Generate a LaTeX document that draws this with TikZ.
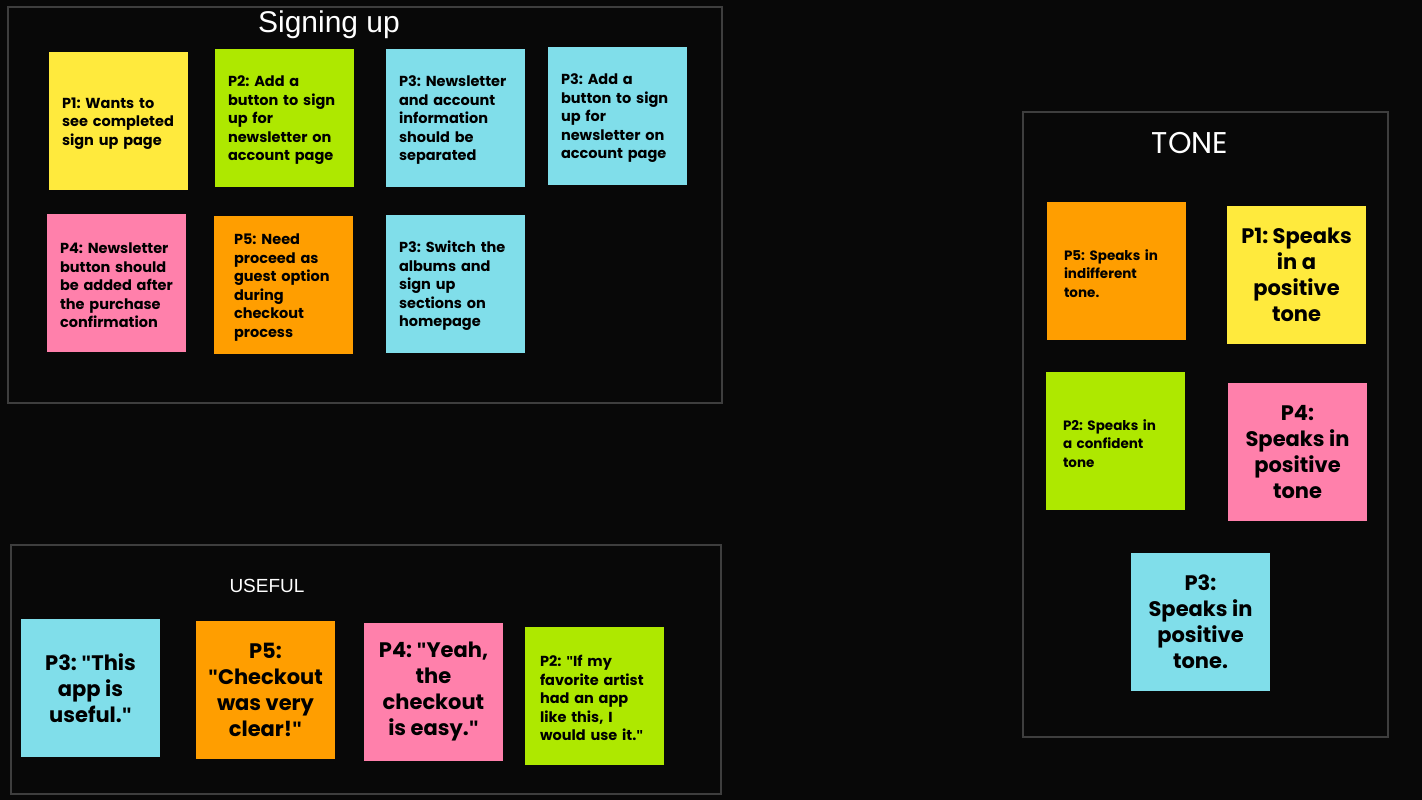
\documentclass[tikz,border=0pt]{standalone}
\usepackage{fontspec}
\setmainfont{Poppins}
\newfontfamily\titlefont{Liberation Sans}
\frenchspacing
\definecolor{bg}{HTML}{080808}
\definecolor{frame}{HTML}{3E3E3E}
\definecolor{nyel}{HTML}{FFEA3D}
\definecolor{ngrn}{HTML}{AEE800}
\definecolor{ncyn}{HTML}{80DEEA}
\definecolor{npnk}{HTML}{FF80AB}
\definecolor{norg}{HTML}{FF9E00}
\newcommand{\qq}{{\titlefont\bfseries\symbol{34}}}
\tikzset{
  note/.style={minimum width=139pt, minimum height=138pt, inner sep=0pt, text=black},
  small/.style={note, font=\fontsize{14.5}{18.5}\selectfont\bfseries, align=left, text width=113pt},
  tsmall/.style={note, font=\fontsize{13.5}{18.5}\selectfont\bfseries, align=left, text width=105pt},
  big/.style={note, font=\fontsize{21}{26}\selectfont\bfseries, align=center},
  frm/.style={draw=frame, line width=2pt},
  ttl/.style={text=white, font=\titlefont\fontsize{30}{34}\selectfont}
}
\newcommand{\st}{\rule{0pt}{15.5pt}}
\begin{document}
\begin{tikzpicture}[x=1pt,y=-1pt]
\fill[bg] (0,0) rectangle (1422,800);
\useasboundingbox (0,0) rectangle (1422,800);
% frames
\draw[frm] (8,7) rectangle (722,403);
\draw[frm] (1023,112) rectangle (1388,737);
\draw[frm] (11,545) rectangle (721,794);
\node[ttl] (t1) at (329,25) {Signing up};
\node[ttl, font=\fontsize{30}{34}\selectfont] (t2) at (1190,143) {TONE};
\node[ttl, font=\titlefont\fontsize{19}{22}\selectfont] (t3) at (267,586) {USEFUL};
% signing up
\node[small, fill=nyel] (s1) at (118.5,121) {\st P1: Wants to\\see completed\\sign up page};
\node[small, fill=ngrn] (s2) at (284.5,118) {\st P2: Add a\\button to sign\\up for\\newsletter on\\account page};
\node[small, fill=ncyn] (s3) at (455.5,118) {\st P3: Newsletter\\and account\\information\\should be\\separated};
\node[small, fill=ncyn] (s4) at (617.5,116) {\st P3: Add a\\button to sign\\up for\\newsletter on\\account page};
\node[small, fill=npnk] (s5) at (116.5,283) {\st P4: Newsletter\\button should\\be added after\\the purchase\\confirmation};
\node[small, fill=norg, text width=99pt] (s6) at (283.5,285) {\st P5: Need\\proceed as\\guest option\\during\\checkout\\process};
\node[small, fill=ncyn] (s7) at (455.5,284) {\st P3: Switch the\\albums and\\sign up\\sections on\\homepage};
% tone
\node[tsmall, fill=norg] (n1) at (1116.5,271) {\st P5: Speaks in\\indifferent\\tone.};
\node[big, fill=nyel] (n2) at (1296.5,275) {P1: Speaks\\in a\\positive\\tone};
\node[tsmall, fill=ngrn] (n3) at (1115.5,441) {\st P2: Speaks in\\a confident\\tone};
\node[big, fill=npnk] (n4) at (1297.5,452) {P4:\\Speaks in\\positive\\tone};
\node[big, fill=ncyn] (n5) at (1200.5,622) {P3:\\Speaks in\\positive\\tone.};
% useful
\node[big, fill=ncyn] (u1) at (90.5,688) {P3: \qq This\\app is\\useful.\qq};
\node[big, fill=norg] (u2) at (265.5,690) {P5:\\\qq Checkout\\was very\\clear!\qq};
\node[big, fill=npnk] (u3) at (433.5,692) {P4: \qq Yeah,\\the\\checkout\\is easy.\qq};
\node[small, fill=ngrn, text width=109pt] (u4) at (594.5,696) {\st P2: \qq If my\\favorite artist\\had an app\\like this, I\\would use it.\qq};
\end{tikzpicture}
\end{document}
